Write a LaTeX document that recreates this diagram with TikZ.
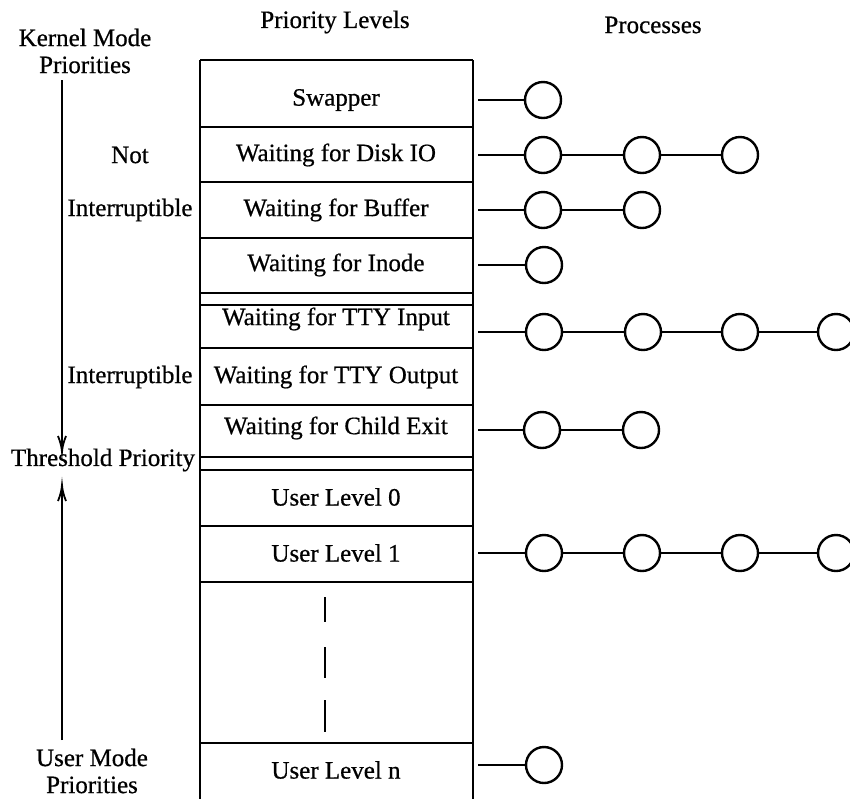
\documentclass[tikz,border=0pt]{standalone}
\usepackage{fontspec}
\setmainfont{Liberation Serif}[FakeBold=0.6]
\usepackage{tikz}

\begin{document}
\begin{tikzpicture}[x=0.5pt,y=0.5pt,yscale=-1,xscale=1,
  lbl/.style={inner sep=0.75pt, font=\fontsize{12.5}{13.5}\selectfont, align=center},
  proc/.style={circle, draw, line width=1.2pt, minimum size=18pt, inner sep=0pt},
  rule/.style={line width=1pt}]
\useasboundingbox (0,0) rectangle (850,799);

%Shape: Table frame
\draw [rule]  (200,60) -- (473,60) ;
\draw [rule]  (200,60) -- (200,799) ;
\draw [rule]  (473,60) -- (473,799) ;
%Straight Lines: row borders
\draw [rule]  (200,127) -- (473,127) ;
\draw [rule]  (200,182) -- (473,182) ;
\draw [rule]  (200,238) -- (473,238) ;
\draw [rule]  (200,293) -- (473,293) ;
\draw [rule]  (200,305) -- (473,305) ;
\draw [rule]  (200,348) -- (473,348) ;
\draw [rule]  (200,405) -- (473,405) ;
\draw [rule]  (200,457) -- (473,457) ;
\draw [rule]  (200,470) -- (473,470) ;
\draw [rule]  (200,526) -- (473,526) ;
\draw [rule]  (200,582) -- (473,582) ;
\draw [rule]  (200,743) -- (473,743) ;
%Straight Lines: gap marks
\draw [rule]  (325,597) -- (325,622) ;
\draw [rule]  (325,647) -- (325,678) ;
\draw [rule]  (325,700) -- (325,732) ;

% Text Node
\draw (335,22) node [lbl] (levels) {Priority Levels};
% Text Node
\draw (653,25) node [lbl] (procs) {Processes};
% Text Node
\draw (85,51) node [lbl] (kmode) {Kernel Mode\\Priorities};
% Text Node
\draw (130,155) node [lbl] (notint) {Not};
% Text Node
\draw (130,210) node [lbl] (noint) {Interruptible};
% Text Node
\draw (130,377) node [lbl] (inter) {Interruptible};
% Text Node
\draw (103,460) node [lbl] (thresh) {Threshold Priority};
% Text Node
\draw (92,771) node [lbl] (umode) {User Mode\\Priorities};

% Text Node
\draw (336,100) node [lbl] (swap) {Swapper};
% Text Node
\draw (336,155) node [lbl] (disk) {Waiting for Disk IO};
% Text Node
\draw (336,210) node [lbl] (buf) {Waiting for Buffer};
% Text Node
\draw (336,265) node [lbl] (inode) {Waiting for Inode};
% Text Node
\draw (336,319) node [lbl] (ttyin) {Waiting for TTY Input};
% Text Node
\draw (336,377) node [lbl] (ttyout) {Waiting for TTY Output};
% Text Node
\draw (336,428) node [lbl] (child) {Waiting for Child Exit};
% Text Node
\draw (336,497) node [lbl] (ulz) {User Level 0};
% Text Node
\draw (336,553) node [lbl] (ulo) {User Level 1};
% Text Node
\draw (336,770) node [lbl] (uln) {User Level n};

%Straight Lines: mode range
\coordinate (ktop) at (62,80) ;
\coordinate (ktip) at (62,452) ;
\coordinate (utip) at (62,485) ;
\coordinate (ubot) at (62,740) ;
\draw [line width=0.9pt]  (ktop) -- (ktip) ;
\draw [shift={(62,452)}, rotate = 270] [line width=0.9pt]    (16,-4) .. controls (10,-1.6) and (5,-0.3) .. (0,0) .. controls (5,0.3) and (10,1.6) .. (16,4)   ;
\draw [line width=0.9pt]  (ubot) -- (utip) ;
\draw [shift={(62,485)}, rotate = 90] [line width=0.9pt]    (16,-4) .. controls (10,-1.6) and (5,-0.3) .. (0,0) .. controls (5,0.3) and (10,1.6) .. (16,4)   ;

%Shape: Circles (processes)
\draw (543,100) node [proc] (swap1) {};
\draw (543,155) node [proc] (disk1) {};
\draw (642,155) node [proc] (disk2) {};
\draw (740,155) node [proc] (disk3) {};
\draw (543,210) node [proc] (buf1) {};
\draw (642,210) node [proc] (buf2) {};
\draw (544,265) node [proc] (inode1) {};
\draw (544,332) node [proc] (ttyin1) {};
\draw (643,332) node [proc] (ttyin2) {};
\draw (740,332) node [proc] (ttyin3) {};
\draw (836,332) node [proc] (ttyin4) {};
\draw (542,430) node [proc] (child1) {};
\draw (641,430) node [proc] (child2) {};
\draw (544,553) node [proc] (ulo1) {};
\draw (642,553) node [proc] (ulo2) {};
\draw (740,553) node [proc] (ulo3) {};
\draw (836,553) node [proc] (ulo4) {};
\draw (544,765) node [proc] (uln1) {};

%Straight Lines: queue heads
\coordinate (swap0) at (478,100) ;
\coordinate (disk0) at (478,155) ;
\coordinate (buf0) at (478,210) ;
\coordinate (inode0) at (478,265) ;
\coordinate (ttyin0) at (478,332) ;
\coordinate (child0) at (478,430) ;
\coordinate (ulo0) at (478,553) ;
\coordinate (uln0) at (478,765) ;
\draw [rule]  (swap0) -- (swap1) ;
\draw [rule]  (disk0) -- (disk1) ;
\draw [rule]  (disk1) -- (disk2) ;
\draw [rule]  (disk2) -- (disk3) ;
\draw [rule]  (buf0) -- (buf1) ;
\draw [rule]  (buf1) -- (buf2) ;
\draw [rule]  (inode0) -- (inode1) ;
\draw [rule]  (ttyin0) -- (ttyin1) ;
\draw [rule]  (ttyin1) -- (ttyin2) ;
\draw [rule]  (ttyin2) -- (ttyin3) ;
\draw [rule]  (ttyin3) -- (ttyin4) ;
\draw [rule]  (child0) -- (child1) ;
\draw [rule]  (child1) -- (child2) ;
\draw [rule]  (ulo0) -- (ulo1) ;
\draw [rule]  (ulo1) -- (ulo2) ;
\draw [rule]  (ulo2) -- (ulo3) ;
\draw [rule]  (ulo3) -- (ulo4) ;
\draw [rule]  (uln0) -- (uln1) ;

\end{tikzpicture}
\end{document}
